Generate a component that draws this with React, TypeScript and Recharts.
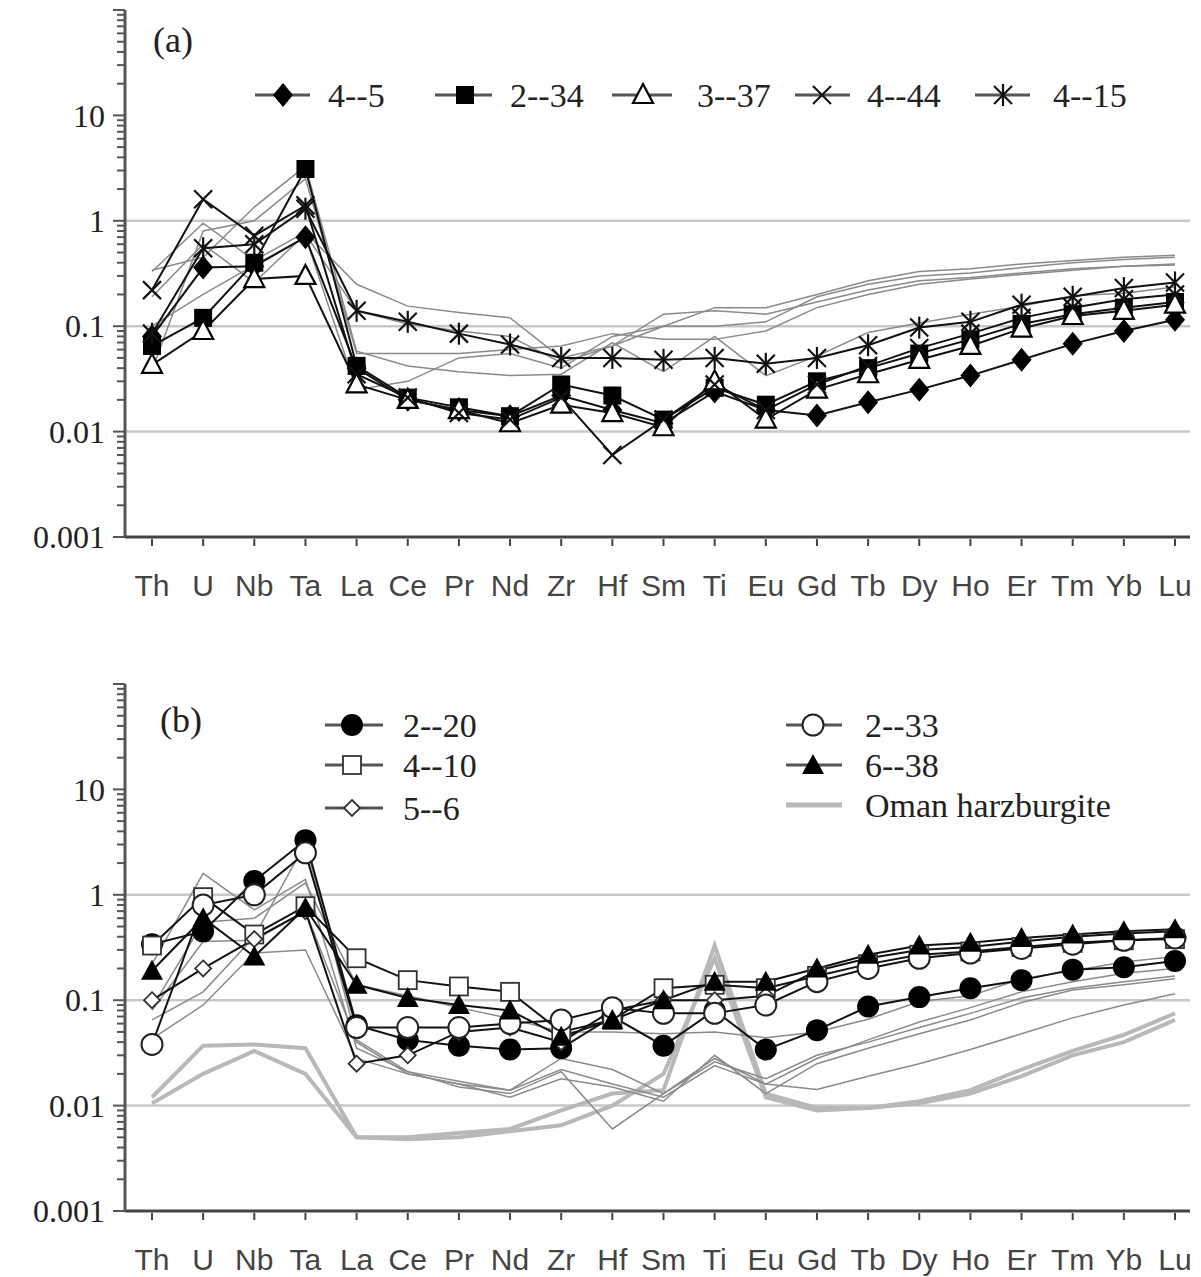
import React from "react";
import { LineChart, Line, XAxis, YAxis, CartesianGrid, Legend } from "recharts";

const elements = ["Th", "U", "Nb", "Ta", "La", "Ce", "Pr", "Nd", "Zr", "Hf", "Sm", "Ti", "Eu", "Gd", "Tb", "Dy", "Ho", "Er", "Tm", "Yb", "Lu"];

// panel (a) samples
const s4_5 = [0.08, 0.36, 0.37, 0.7, 0.04, 0.02, 0.016, 0.014, 0.022, 0.016, 0.012, 0.024, 0.016, 0.0142, 0.019, 0.025, 0.034, 0.048, 0.068, 0.09, 0.115];
const s2_34 = [0.065, 0.12, 0.4, 3.1, 0.042, 0.021, 0.017, 0.014, 0.028, 0.022, 0.013, 0.026, 0.018, 0.03, 0.04, 0.055, 0.075, 0.105, 0.13, 0.15, 0.17];
const s3_37 = [0.043, 0.09, 0.28, 0.3, 0.028, 0.02, 0.016, 0.012, 0.018, 0.015, 0.011, 0.03, 0.013, 0.025, 0.035, 0.048, 0.065, 0.095, 0.125, 0.14, 0.16];
const s4_44 = [0.22, 1.6, 0.72, 1.4, 0.035, 0.021, 0.015, 0.013, 0.021, 0.006, 0.013, 0.028, 0.016, 0.028, 0.042, 0.062, 0.085, 0.12, 0.15, 0.18, 0.2];
const s4_15 = [0.085, 0.55, 0.6, 1.3, 0.14, 0.11, 0.085, 0.067, 0.05, 0.05, 0.048, 0.05, 0.044, 0.05, 0.066, 0.097, 0.11, 0.16, 0.19, 0.23, 0.26];

// panel (b) samples
const s2_20 = [0.34, 0.45, 1.35, 3.3, 0.058, 0.042, 0.037, 0.034, 0.035, 0.07, 0.037, 0.08, 0.034, 0.052, 0.087, 0.107, 0.13, 0.155, 0.195, 0.205, 0.235];
const s4_10 = [0.33, 0.95, 0.42, 0.78, 0.25, 0.155, 0.135, 0.12, 0.05, 0.065, 0.13, 0.14, 0.13, 0.17, 0.22, 0.27, 0.29, 0.32, 0.35, 0.37, 0.38];
const s5_6 = [0.1, 0.2, 0.38, 0.7, 0.025, 0.03, 0.05, 0.055, 0.04, 0.08, 0.1, 0.1, 0.11, 0.19, 0.25, 0.3, 0.32, 0.36, 0.4, 0.43, 0.45];
const s2_33 = [0.038, 0.8, 1.0, 2.5, 0.055, 0.055, 0.055, 0.06, 0.065, 0.085, 0.075, 0.075, 0.09, 0.15, 0.2, 0.25, 0.28, 0.31, 0.34, 0.37, 0.39];
const s6_38 = [0.19, 0.6, 0.26, 0.75, 0.14, 0.105, 0.09, 0.08, 0.045, 0.065, 0.1, 0.15, 0.15, 0.2, 0.27, 0.33, 0.35, 0.39, 0.42, 0.45, 0.47];
const oman1 = [0.012, 0.037, 0.038, 0.035, 0.005, 0.005, 0.0055, 0.006, 0.009, 0.013, 0.014, 0.33, 0.013, 0.0095, 0.0095, 0.011, 0.014, 0.022, 0.033, 0.047, 0.075];
const oman2 = [0.0105, 0.02, 0.033, 0.02, 0.005, 0.0048, 0.005, 0.0057, 0.0065, 0.01, 0.02, 0.25, 0.012, 0.009, 0.0095, 0.0105, 0.013, 0.019, 0.03, 0.04, 0.065];

const yLabels = [0.001, 0.01, 0.1, 1, 10];
const yMajor = [0.001, 0.01, 0.1, 1, 10, 100];
const minorSteps = [2, 3, 4, 5, 6, 7, 8, 9];
const gridValues = [0.01, 0.1, 1];

const seriesA = [
  { key: "a1", name: "4--5", values: s4_5, shape: "diamond" },
  { key: "a2", name: "2--34", values: s2_34, shape: "square" },
  { key: "a3", name: "3--37", values: s3_37, shape: "openTriangle" },
  { key: "a4", name: "4--44", values: s4_44, shape: "cross" },
  { key: "a5", name: "4--15", values: s4_15, shape: "star" },
];
const seriesB = [
  { key: "b1", name: "2--20", values: s2_20, shape: "circle" },
  { key: "b2", name: "4--10", values: s4_10, shape: "openSquare" },
  { key: "b3", name: "5--6", values: s5_6, shape: "openDiamond" },
  { key: "b4", name: "2--33", values: s2_33, shape: "openCircle" },
  { key: "b5", name: "6--38", values: s6_38, shape: "filledTriangle" },
];
const omanSeries = [
  { key: "o1", name: "Oman harzburgite", values: oman1 },
  { key: "o2", name: "Oman harzburgite", values: oman2 },
];

const rows = elements.map((el, i) => {
  const r: any = { el };
  [...seriesA, ...seriesB, ...omanSeries].forEach((s) => (r[s.key] = s.values[i]));
  return r;
});

const yTicks = [
  ...yMajor,
  ...yMajor.slice(0, 5).flatMap((d) => minorSteps.map((m) => +(d * m).toPrecision(3))),
].sort((a, b) => a - b);

const SERIF = "'Liberation Serif', 'Times New Roman', serif";
const SANS = "'Liberation Sans', Arial, sans-serif";

function Marker({ shape, x, y }: { shape: string; x: number; y: number }) {
  switch (shape) {
    case "diamond":
      return <polygon points={`${x},${y - 12} ${x + 10},${y} ${x},${y + 12} ${x - 10},${y}`} fill="#000" />;
    case "square":
      return <rect x={x - 9} y={y - 9} width={18} height={18} fill="#000" />;
    case "openTriangle":
      return <polygon points={`${x},${y - 11} ${x + 10},${y + 8} ${x - 10},${y + 8}`} fill="#fff" stroke="#000" strokeWidth={2.2} />;
    case "cross":
      return (
        <g stroke="#111" strokeWidth={2.2}>
          <line x1={x - 9} y1={y - 9} x2={x + 9} y2={y + 9} />
          <line x1={x - 9} y1={y + 9} x2={x + 9} y2={y - 9} />
        </g>
      );
    case "star":
      return (
        <g stroke="#111" strokeWidth={2.2}>
          <line x1={x - 9} y1={y - 9} x2={x + 9} y2={y + 9} />
          <line x1={x - 9} y1={y + 9} x2={x + 9} y2={y - 9} />
          <line x1={x} y1={y - 11} x2={x} y2={y + 11} />
        </g>
      );
    case "circle":
      return <circle cx={x} cy={y} r={11} fill="#000" />;
    case "openSquare":
      return <rect x={x - 9} y={y - 9} width={18} height={18} fill="#fff" stroke="#333" strokeWidth={1.8} />;
    case "openDiamond":
      return <polygon points={`${x},${y - 8} ${x + 8},${y} ${x},${y + 8} ${x - 8},${y}`} fill="#fff" stroke="#333" strokeWidth={1.8} />;
    case "openCircle":
      return <circle cx={x} cy={y} r={10.5} fill="#fff" stroke="#222" strokeWidth={2} />;
    case "filledTriangle":
      return <polygon points={`${x},${y - 11} ${x + 11},${y + 9} ${x - 11},${y + 9}`} fill="#000" />;
    default:
      return null;
  }
}

const dotFor = (shape: string, key: string) => (p: any) => {
  if (p.cx == null || p.cy == null) return <g key={`${key}-${p.index}`} />;
  return (
    <g key={`${key}-${p.index}`}>
      <Marker shape={shape} x={p.cx} y={p.cy} />
    </g>
  );
};

function XTick({ x, y, payload }: any) {
  return (
    <g>
      <line x1={x} x2={x} y1={y + 2} y2={y + 9} stroke="#444" strokeWidth={2} />
      <text x={x} y={y + 48} dy="0.36em" textAnchor="middle" fontFamily={SANS} fontSize={30} fill="#444">
        {payload.value}
      </text>
    </g>
  );
}

function YTick({ x, y, payload }: any) {
  const v = payload.value;
  const major = yMajor.includes(v);
  return (
    <g>
      <line x1={x - (major ? 12 : 8)} x2={x} y1={y} y2={y} stroke="#555" strokeWidth={2} />
      {yLabels.includes(v) && (
        <text x={x - 20} y={y} dy="0.35em" textAnchor="end" fontFamily={SERIF} fontSize={32} fill="#222">
          {String(v)}
        </text>
      )}
    </g>
  );
}

function LegendIcon({ shape, cx, y, x1, x2, gray }: any) {
  return (
    <g>
      <line x1={x1} x2={x2} y1={y} y2={y} stroke={gray ? "#b8b8b8" : "#555"} strokeWidth={gray ? 5 : 3} />
      {shape && <Marker shape={shape} x={cx} y={y} />}
    </g>
  );
}

function LegendA() {
  const pos = [
    { x1: 255, x2: 310, cx: 283, tx: 328 },
    { x1: 435, x2: 492, cx: 465, tx: 510 },
    { x1: 612, x2: 672, cx: 643, tx: 697 },
    { x1: 795, x2: 850, cx: 822, tx: 867 },
    { x1: 975, x2: 1030, cx: 1003, tx: 1053 },
  ];
  return (
    <svg width={1201} height={140} style={{ display: "block" }}>
      <text x={153} y={52} fontFamily={SERIF} fontSize={36} fill="#222">(a)</text>
      {seriesA.map((s, i) => (
        <g key={s.key}>
          <LegendIcon shape={s.shape} cx={pos[i].cx} y={95} x1={pos[i].x1} x2={pos[i].x2} />
          <text x={pos[i].tx} y={95} dy="0.34em" fontFamily={SERIF} fontSize={34} fill="#222">{s.name}</text>
        </g>
      ))}
    </svg>
  );
}

function LegendB() {
  const items = [
    ...seriesB.slice(0, 3).map((s, i) => ({ ...s, x1: 325, x2: 383, cx: 352, tx: 403, y: [51, 91, 134][i], gray: false })),
    ...seriesB.slice(3).map((s, i) => ({ ...s, x1: 786, x2: 842, cx: 813, tx: 865, y: [51, 91][i], gray: false })),
    { key: "om", name: omanSeries[0].name, shape: "", x1: 786, x2: 842, cx: 813, tx: 865, y: 131, gray: true },
  ];
  return (
    <svg width={1201} height={160} style={{ display: "block" }}>
      <text x={160} y={58} fontFamily={SERIF} fontSize={36} fill="#222">(b)</text>
      {items.map((s) => (
        <g key={s.key}>
          <LegendIcon shape={s.shape} cx={s.cx} y={s.y} x1={s.x1} x2={s.x2} gray={s.gray} />
          <text x={s.tx} y={s.y} dy="0.34em" fontFamily={SERIF} fontSize={34} fill="#222">{s.name}</text>
        </g>
      ))}
    </svg>
  );
}

function Panel({ main, background, oman, legend }: any) {
  return (
    <LineChart width={1201} height={607} data={rows} margin={{ top: 10, right: 11, bottom: 0, left: 0 }}>
      <CartesianGrid vertical={false} horizontalValues={gridValues} stroke="#c8c8c8" strokeWidth={2.5} />
      <XAxis
        dataKey="el"
        interval={0}
        padding={{ left: 27, right: 15 }}
        axisLine={{ stroke: "#444", strokeWidth: 3 }}
        tickLine={false}
        tickSize={0}
        tickMargin={0}
        height={70}
        tick={<XTick />}
      />
      <YAxis
        type="number"
        scale="log"
        domain={[0.001, 100]}
        allowDataOverflow
        ticks={yTicks}
        interval={0}
        width={125}
        axisLine={{ stroke: "#555", strokeWidth: 3 }}
        tickLine={false}
        tickSize={0}
        tickMargin={0}
        tick={<YTick />}
      />
      {oman &&
        omanSeries.map((s) => (
          <Line key={s.key} dataKey={s.key} stroke="#b8b8b8" strokeWidth={4} dot={false} legendType="none" isAnimationActive={false} />
        ))}
      {background.map((s: any) => (
        <Line key={s.key} dataKey={s.key} stroke="#8a8a8a" strokeWidth={1.5} dot={false} legendType="none" isAnimationActive={false} />
      ))}
      {main.map((s: any) => (
        <Line
          key={s.key}
          dataKey={s.key}
          name={s.name}
          stroke="#111"
          strokeWidth={2}
          dot={dotFor(s.shape, s.key)}
          isAnimationActive={false}
        />
      ))}
      <Legend
        layout="horizontal"
        verticalAlign="middle"
        align="center"
        wrapperStyle={{ left: 0, top: 0, width: 1201, height: 160, pointerEvents: "none" }}
        content={() => legend}
      />
    </LineChart>
  );
}

export default function App() {
  return (
    <div style={{ position: "absolute", left: 0, top: 0, width: 1201, height: 1277, background: "#fff" }}>
      <div style={{ position: "absolute", left: 0, top: 0 }}>
        <Panel main={seriesA} background={seriesB} oman={false} legend={<LegendA />} />
      </div>
      <div style={{ position: "absolute", left: 0, top: 674 }}>
        <Panel main={seriesB} background={seriesA} oman={true} legend={<LegendB />} />
      </div>
    </div>
  );
}
